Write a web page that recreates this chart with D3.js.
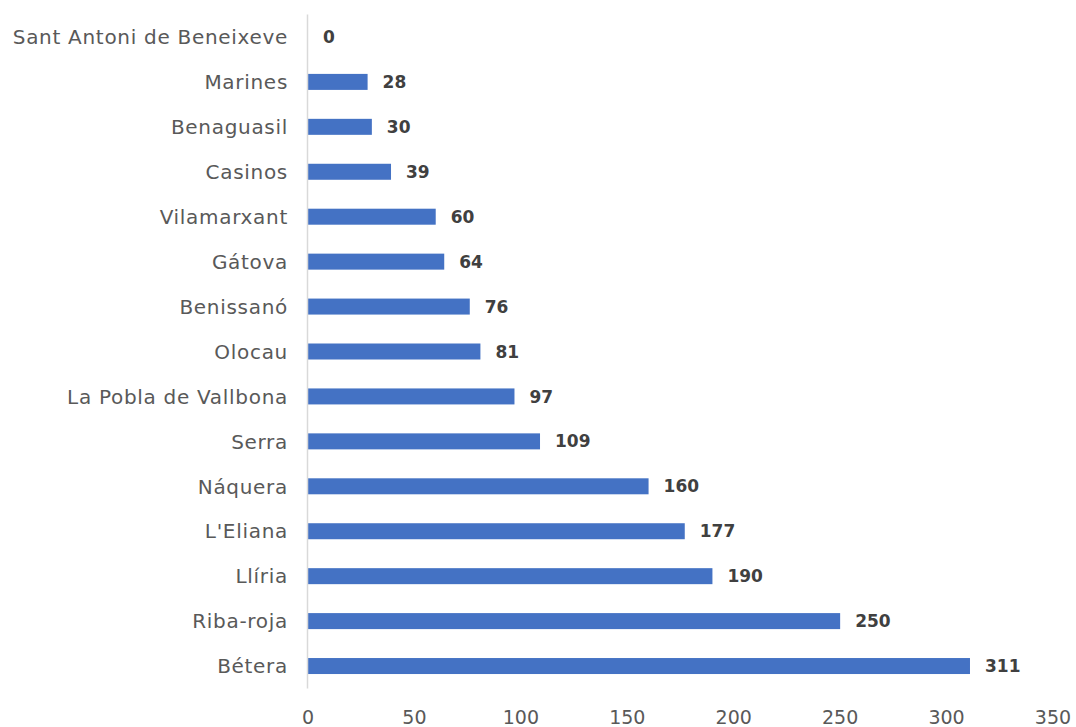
<!DOCTYPE html>
<html>
<head>
<meta charset="utf-8">
<script src="https://cdn.jsdelivr.net/npm/d3@7"></script>
<style>
  html, body { margin: 0; padding: 0; background: #fff; }
  svg text { font-family: "DejaVu Sans", sans-serif; }
</style>
</head>
<body>
<svg id="chart" width="1076" height="727"></svg>
<script>
// Municipalities, top to bottom
const categories = [
  "Sant Antoni de Beneixeve", "Marines", "Benaguasil", "Casinos", "Vilamarxant",
  "Gátova", "Benissanó", "Olocau", "La Pobla de Vallbona", "Serra",
  "Náquera", "L'Eliana", "Llíria", "Riba-roja", "Bétera"
];
const values = [0, 28, 30, 39, 60, 64, 76, 81, 97, 109, 160, 177, 190, 250, 311];
const xTicks = [0, 50, 100, 150, 200, 250, 300, 350];

const svg = d3.select("#chart");

const x = d3.scaleLinear().domain([0, 350]).range([308, 1053]);
const y = d3.scaleBand()
  .domain(categories)
  .range([14.5, 688.5])
  .paddingInner(0.644)
  .paddingOuter(0.322);

// Bars
svg.append("g").selectAll("rect")
  .data(values)
  .join("rect")
  .attr("x", x(0))
  .attr("y", (d, i) => y(categories[i]))
  .attr("width", d => x(d) - x(0))
  .attr("height", y.bandwidth())
  .attr("fill", "#4472C4");

// Category axis line
svg.append("line")
  .attr("x1", x(0) - 0.5).attr("x2", x(0) - 0.5)
  .attr("y1", 14.5).attr("y2", 688.5)
  .attr("stroke", "#D9D9D9").attr("stroke-width", 1.5);

// Category labels
svg.append("g").selectAll("text")
  .data(categories)
  .join("text")
  .attr("x", 288)
  .attr("y", d => y(d) + y.bandwidth() / 2)
  .attr("dy", "0.36em")
  .attr("text-anchor", "end")
  .attr("font-size", 20)
  .attr("letter-spacing", 0.7)
  .attr("fill", "#595959")
  .text(d => d);

// Value labels
svg.append("g").selectAll("text")
  .data(values)
  .join("text")
  .attr("x", d => x(d) + 15)
  .attr("y", (d, i) => y(categories[i]) + y.bandwidth() / 2)
  .attr("dy", "0.36em")
  .attr("font-size", 17)
  .attr("font-weight", "bold")
  .attr("fill", "#404040")
  .text(d => d);

// Value axis tick labels
svg.append("g").selectAll("text")
  .data(xTicks)
  .join("text")
  .attr("x", d => x(d))
  .attr("y", 717)
  .attr("dy", "0.36em")
  .attr("text-anchor", "middle")
  .attr("font-size", 19)
  .attr("fill", "#595959")
  .text(d => d);
</script>
</body>
</html>
